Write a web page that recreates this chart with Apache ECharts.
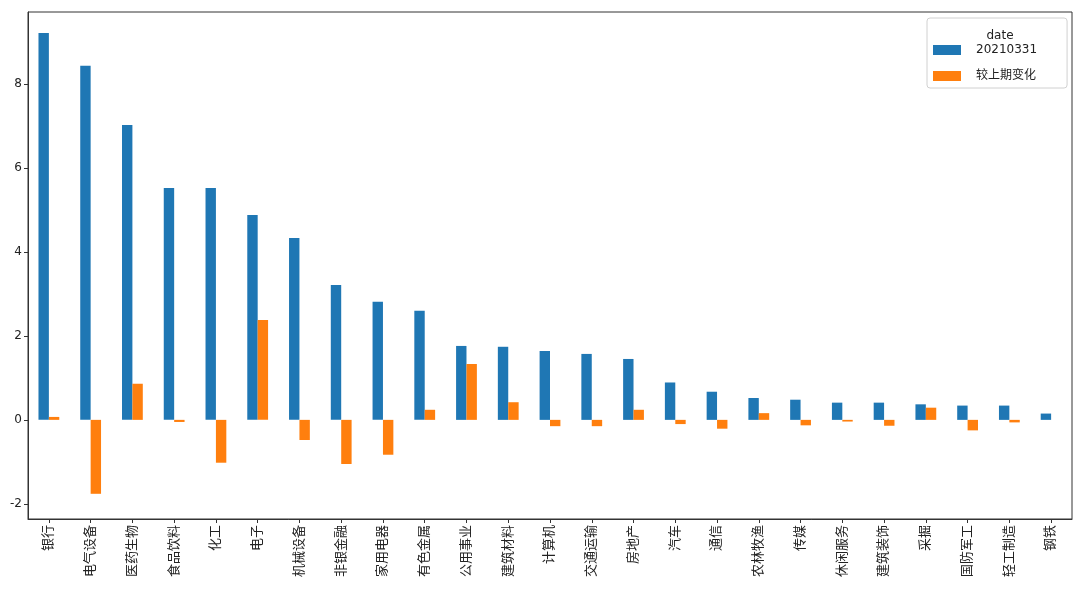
<!DOCTYPE html>
<html>
<head>
<meta charset="utf-8">
<script src="https://cdn.jsdelivr.net/npm/echarts@6/dist/echarts.min.js"></script>
<style>html,body{margin:0;padding:0;background:#fff}#c{width:1080px;height:597px}</style>
</head>
<body>
<div id="c"></div>
<script>
const categories = ['银行','电气设备','医药生物','食品饮料','化工','电子','机械设备','非银金融','家用电器','有色金属','公用事业','建筑材料','计算机','交通运输','房地产','汽车','通信','农林牧渔','传媒','休闲服务','建筑装饰','采掘','国防军工','轻工制造','钢铁'];
const series1Name = '20210331';
const series1 = [9.21,8.43,7.02,5.52,5.52,4.88,4.33,3.21,2.81,2.6,1.76,1.74,1.64,1.57,1.45,0.89,0.67,0.52,0.48,0.41,0.41,0.37,0.34,0.34,0.15];
const series2Name = '较上期变化';
const series2 = [0.07,-1.76,0.86,-0.05,-1.02,2.38,-0.48,-1.05,-0.83,0.24,1.33,0.42,-0.15,-0.15,0.24,-0.1,-0.21,0.16,-0.13,-0.04,-0.14,0.29,-0.25,-0.06,0];
const yTicks = [-2,0,2,4,6,8];
const legendTitle = 'date';

const font = 'DejaVu Sans, Noto Sans CJK SC, sans-serif';
const chart = echarts.init(document.getElementById('c'), null, {renderer:'canvas'});
chart.setOption({
  animation:false,
  textStyle:{fontFamily:font},
  grid:{left:28,right:8,top:12,bottom:78,show:true,borderColor:'#333',borderWidth:1,backgroundColor:'transparent'},
  title:{text:legendTitle,left:995,top:25,textAlign:'center',textStyle:{fontSize:12,fontWeight:'normal',color:'#222',fontFamily:font}},
  legend:{
    orient:'vertical',left:927,top:18,
    padding:[26,30,6,6],itemWidth:28,itemHeight:10,itemGap:14,
    borderColor:'#d0d0d0',borderWidth:1,borderRadius:3,
    icon:'rect',
    textStyle:{fontSize:12,color:'#222',fontFamily:font,padding:[0,0,0,10]},
    data:[series1Name,series2Name]
  },
  xAxis:{
    type:'category',data:categories,
    axisLine:{onZero:false,lineStyle:{color:'#333'}},
    axisTick:{show:true,alignWithLabel:true,length:4,lineStyle:{color:'#333'}},
    axisLabel:{rotate:90,interval:0,fontSize:13,color:'#222',margin:6,fontFamily:font},
    splitLine:{show:false}
  },
  yAxis:{
    type:'value',min:-2.36,max:9.71,
    axisLine:{show:true,lineStyle:{color:'#333'}},
    axisTick:{show:true,length:4,inside:false,customValues:yTicks,lineStyle:{color:'#333'}},
    axisLabel:{customValues:yTicks,fontSize:12,color:'#222',margin:6,fontFamily:font},
    splitLine:{show:false}
  },
  series:[
    {name:series1Name,type:'bar',data:series1,barWidth:10.4,barGap:'0%',itemStyle:{color:'#1f77b4'}},
    {name:series2Name,type:'bar',data:series2,barWidth:10.4,barGap:'0%',itemStyle:{color:'#ff7f0e'}}
  ]
});
</script>
</body>
</html>
